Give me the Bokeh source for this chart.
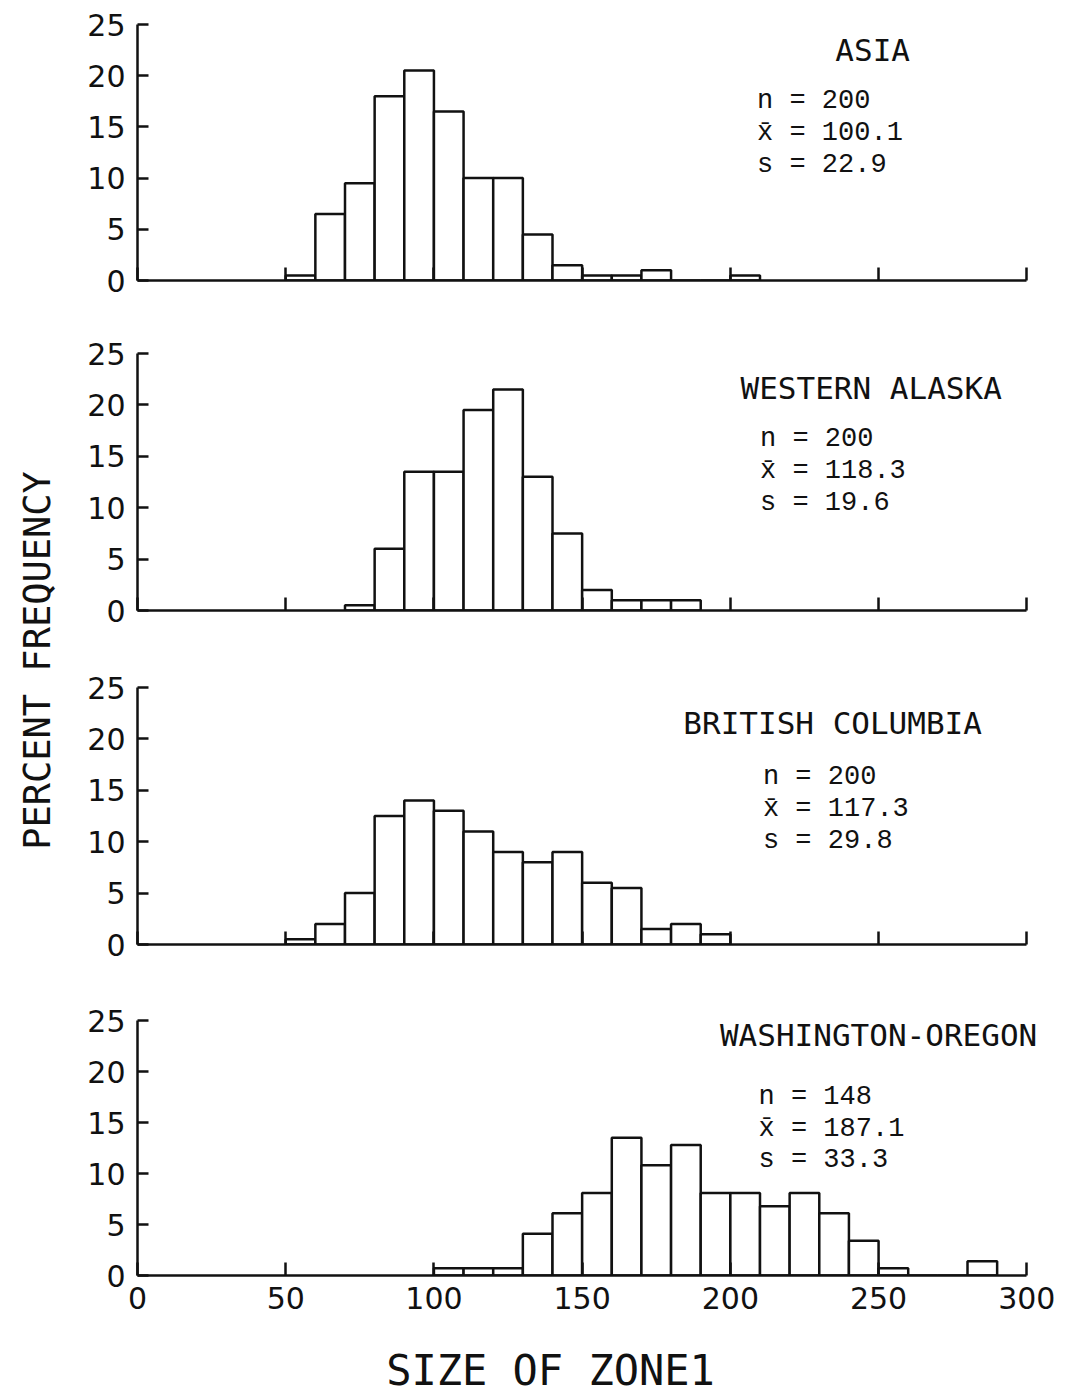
import math
from bokeh.plotting import figure
from bokeh.layouts import column, row
from bokeh.models import Label, Range1d, FixedTicker
from bokeh.embed import file_html
from bokeh.resources import INLINE

# ---------------- data (percent frequency, bins of width 10) ----------------
bin_width = 10

asia_start = 50
asia_pct = [0.5, 6.5, 9.5, 18.0, 20.5, 16.5, 10.0, 10.0, 4.5, 1.5, 0.5, 0.5, 1.0, 0.0, 0.0, 0.5]

walaska_start = 70
walaska_pct = [0.5, 6.0, 13.5, 13.5, 19.5, 21.5, 13.0, 7.5, 2.0, 1.0, 1.0, 1.0]

bcol_start = 50
bcol_pct = [0.5, 2.0, 5.0, 12.5, 14.0, 13.0, 11.0, 9.0, 8.0, 9.0, 6.0, 5.5, 1.5, 2.0, 1.0]

waor_start = 100
waor_pct = [0.7, 0.7, 0.7, 4.1, 6.1, 8.1, 13.5, 10.8, 12.8, 8.1, 8.1, 6.8, 8.1, 6.1, 3.4, 0.7, 0.0, 0.0, 1.4]

region_names = ["ASIA", "WESTERN ALASKA", "BRITISH COLUMBIA", "WASHINGTON-OREGON"]
stat_n = ["200", "200", "200", "148"]
stat_mean = ["100.1", "118.3", "117.3", "187.1"]
stat_s = ["22.9", "19.6", "29.8", "33.3"]

x_ticks = [0, 50, 100, 150, 200, 250, 300]
y_ticks = [0, 5, 10, 15, 20, 25]
x_title = "SIZE OF ZONE1"
y_title = "PERCENT FREQUENCY"

starts = [asia_start, walaska_start, bcol_start, waor_start]
series = [asia_pct, walaska_pct, bcol_pct, waor_pct]

# ---------------- layout / style ----------------
PLOT_FONT = "DejaVu Sans Mono"
TICK_FONT = "DejaVu Sans"
STAT_FONT = "Liberation Mono"
INK = "#111111"

lab_w = 80
fig_w = 982
border_left = 57
x_end = 308                       # axis line itself stops at 300 (bounds)
frame_w = round(889 * x_end / 300)
border_right = fig_w - border_left - frame_w
# (height, border_top, border_bottom)
geom = [(316, 24, 36), (332, 37, 38), (334, 39, 38), (343, 38, 50)]
title_pos = [(248, 22.5), (247.5, 21.6), (234.5, 21.5), (250, 23.6)]
stat_pos = [(209, 17.5), (210, 16.7), (211, 16.3), (209.5, 17.5)]
stat_step = 3.1

panels = []
for i in range(4):
    h, bt, bb = geom[i]
    p = figure(width=fig_w, height=h, output_backend="svg", toolbar_location=None,
               x_range=Range1d(0, x_end), y_range=Range1d(0, 25),
               min_border_left=border_left, min_border_right=border_right,
               min_border_top=bt, min_border_bottom=bb)
    p.outline_line_color = None
    p.grid.visible = False
    p.background_fill_color = "white"
    p.border_fill_color = "white"

    vals = series[i]
    lefts = [starts[i] + k * bin_width for k in range(len(vals))]
    rights = [l + bin_width for l in lefts]
    p.quad(left=lefts, right=rights, bottom=0, top=vals,
           fill_color="white", line_color=INK, line_width=2.5)

    for ax in (p.xaxis, p.yaxis):
        ax.axis_line_width = 2.5
        ax.axis_line_color = INK
        ax.major_tick_line_width = 2.5
        ax.major_tick_line_color = INK
        ax.major_tick_out = 0
        ax.minor_tick_out = 0
        ax.minor_tick_in = 0
        ax.major_label_text_font = TICK_FONT
        ax.major_label_text_color = INK
        ax.major_label_text_font_style = "normal"
        ax.major_label_text_font_size = "30px"

    p.yaxis.ticker = FixedTicker(ticks=y_ticks)
    p.yaxis.major_tick_in = 11
    p.yaxis.major_label_standoff = 12

    p.xaxis.ticker = FixedTicker(ticks=x_ticks)
    p.xaxis.bounds = (0, 300)
    p.xaxis.major_tick_in = 13
    if i < 3:
        p.xaxis.major_label_overrides = {t: "" for t in x_ticks}
        p.xaxis.major_label_standoff = 0
    else:
        p.xaxis.major_label_standoff = 11

    tx, ty = title_pos[i]
    p.add_layout(Label(x=tx, y=ty, text=region_names[i], text_align="center",
                       text_baseline="middle", text_font=PLOT_FONT,
                       text_font_size="31px", text_color=INK))
    sx, sy = stat_pos[i]
    lines = ["n = " + stat_n[i], "x\u0304 = " + stat_mean[i], "s = " + stat_s[i]]
    for j, t in enumerate(lines):
        p.add_layout(Label(x=sx, y=sy - j * stat_step, text=t, text_align="left",
                           text_baseline="middle", text_font=STAT_FONT,
                           text_font_size="27px", text_color=INK))
    panels.append(p)

stack_h = sum(g[0] for g in geom)

# left strip: shared y-axis title
lab = figure(width=lab_w, height=stack_h, output_backend="svg", toolbar_location=None,
             x_range=Range1d(0, lab_w), y_range=Range1d(0, stack_h), min_border=0)
lab.axis.visible = False
lab.grid.visible = False
lab.outline_line_color = None
lab.add_layout(Label(x=37, y=stack_h - 660, text=y_title, angle=math.pi / 2,
                     text_align="center", text_baseline="middle", text_font=PLOT_FONT,
                     text_font_size="37px", text_color=INK))

# bottom strip: shared x-axis title
bot_w = lab_w + fig_w
bot_h = 70
bot = figure(width=bot_w, height=bot_h, output_backend="svg", toolbar_location=None,
             x_range=Range1d(0, bot_w), y_range=Range1d(0, bot_h), min_border=0)
bot.axis.visible = False
bot.grid.visible = False
bot.outline_line_color = None
bot.add_layout(Label(x=550, y=bot_h - (1370 - stack_h), text=x_title,
                     text_align="center", text_baseline="middle", text_font=PLOT_FONT,
                     text_font_size="42px", text_color=INK))

layout = column(row(lab, column(*panels, spacing=0), spacing=0), bot, spacing=0)

open("out.html", "w").write(file_html(layout, INLINE))
